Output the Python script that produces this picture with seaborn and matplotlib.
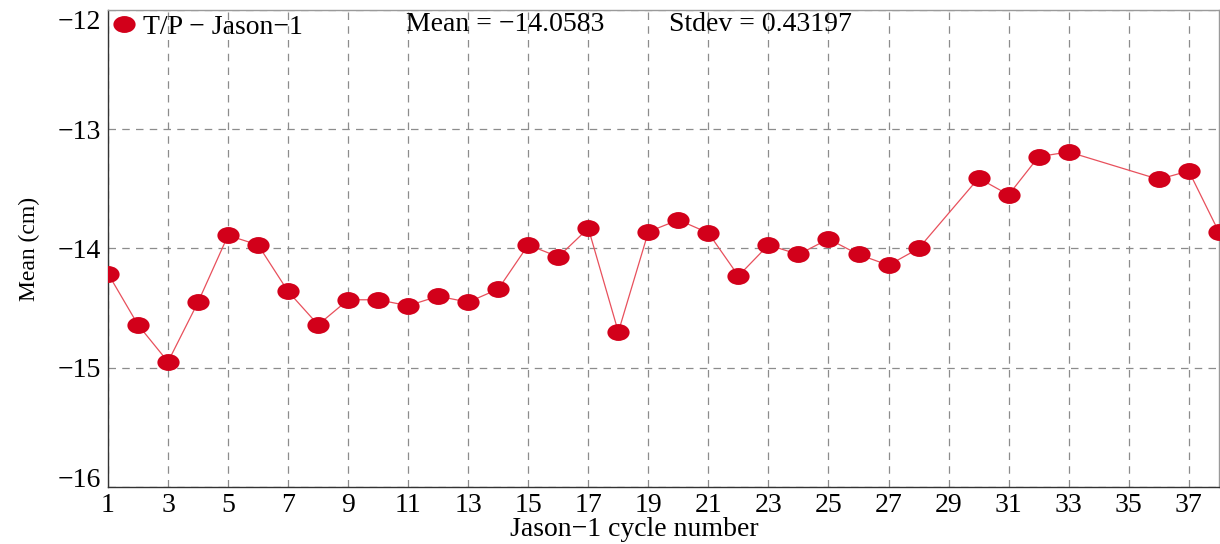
import numpy as np
import pandas as pd
import matplotlib
matplotlib.use("Agg")
import matplotlib.pyplot as plt
import seaborn as sns
from matplotlib.path import Path
from matplotlib.lines import Line2D

# ---- data ----
cycles = [1, 2, 3, 4, 5, 6, 7, 8, 9, 10, 11, 12, 13, 14, 15, 16, 17, 18, 19,
          20, 21, 22, 23, 24, 25, 26, 27, 28, 30, 31, 32, 33, 36, 37, 38]
means = [-14.21, -14.64, -14.95, -14.45, -13.89, -13.97, -14.36, -14.64,
         -14.43, -14.43, -14.48, -14.40, -14.45, -14.34, -13.97, -14.07,
         -13.83, -14.70, -13.86, -13.76, -13.87, -14.23, -13.97, -14.05,
         -13.92, -14.05, -14.14, -14.00, -13.41, -13.55, -13.23, -13.19,
         -13.42, -13.35, -13.86]
series_label = "T/P \u2212 Jason\u22121"
mean_text = "Mean = \u221214.0583"
stdev_text = "Stdev = 0.43197"
x_ticks = list(range(1, 38, 2))
y_ticks = [-16, -15, -14, -13, -12]

df = pd.DataFrame({"cycle": cycles, "mean": means})

sns.set_theme(style="white")
plt.rcParams["font.family"] = ["Liberation Serif", "DejaVu Serif"]
plt.rcParams["text.color"] = "black"
plt.rcParams["axes.labelcolor"] = "black"
plt.rcParams["xtick.color"] = "black"
plt.rcParams["ytick.color"] = "black"

FS = 20
red = "#d2001a"
line_red = "#e8505c"

# ellipse marker (wider than tall)
circ = Path.unit_circle()
ell = Path(circ.vertices * np.array([1.0, 0.76]), circ.codes)

fig = plt.figure(figsize=(12.2, 5.44), dpi=100)
ax = fig.add_axes([0.0885, 0.1048, 0.9105, 0.8768])

sns.lineplot(data=df, x="cycle", y="mean", ax=ax, color=line_red,
             linewidth=0.9, sort=True, legend=False, zorder=3)
sns.lineplot(data=df, x="cycle", y="mean", ax=ax, color=red,
             linestyle="none", marker=ell, markersize=16,
             markeredgewidth=0, legend=False, zorder=4)

ax.set_xlim(1, 38)
ax.set_ylim(-16, -12)
ax.set_xticks(x_ticks)
ax.set_yticks(y_ticks)
ax.set_yticklabels([f"\u2212{abs(v)}" for v in y_ticks])
ax.tick_params(axis="both", labelsize=FS, direction="in", length=0,
               labelcolor="black")
ax.tick_params(axis="x", pad=4)
ax.tick_params(axis="y", pad=5)
ylabels = ax.get_yticklabels()
ylabels[0].set_va("baseline")
ylabels[-1].set_va("top")

ax.grid(True, color="#8c8c8c", linestyle=(0, (6, 5)), linewidth=0.9)
ax.set_axisbelow(True)
for side in ["top", "right"]:
    ax.spines[side].set_color("#9a9a9a")
    ax.spines[side].set_linewidth(1.0)
for side in ["left", "bottom"]:
    ax.spines[side].set_color("#333333")
    ax.spines[side].set_linewidth(1.0)

ax.set_xlabel("Jason\u22121 cycle number", fontsize=FS, labelpad=0,
              color="black")
ax.xaxis.set_label_coords(0.4735, -0.062)
ax.set_ylabel("Mean (cm)", fontsize=17, labelpad=13, color="black")

handle = Line2D([], [], color=red, linestyle="none", marker=ell,
                markersize=16, markeredgewidth=0)
leg = ax.legend([handle], [series_label], loc="upper left", frameon=False,
                fontsize=FS, handlelength=0.85, handletextpad=0.25,
                borderaxespad=0.05, borderpad=0.1)
for t in leg.get_texts():
    t.set_color("black")

ax.text(0.2685, 0.970, mean_text, transform=ax.transAxes, fontsize=FS,
        ha="left", va="center", color="black")
ax.text(0.5055, 0.970, stdev_text, transform=ax.transAxes, fontsize=FS,
        ha="left", va="center", color="black")

fig.savefig("out.png", dpi=100)
